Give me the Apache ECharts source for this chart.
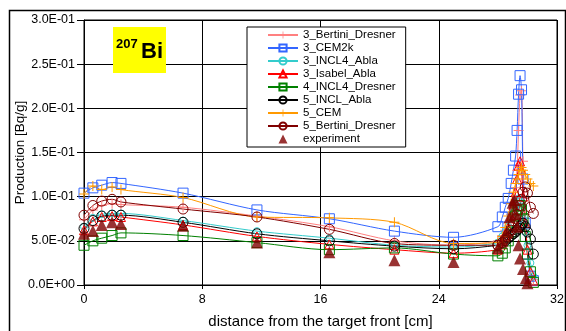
<!DOCTYPE html>
<html style="height: 100%">
<head>
<meta charset="utf-8">
<script type="text/javascript" src="https://cdn.jsdelivr.net/npm/echarts@6/dist/echarts.min.js"></script>
</head>
<body style="height: 100%; margin: 0; background: #fff">
<div id="container" style="width: 566px; height: 331px"></div>
<script type="text/javascript">
// x positions (cm) shared by the model curves
var xModel = [0, 0.6, 1.2, 1.9, 2.5, 6.7, 11.7, 16.6, 21.0, 25.0,
    28.0, 28.3, 28.5, 28.7, 28.9, 29.05, 29.2, 29.3, 29.4, 29.5, 29.6, 29.7, 29.85, 30.0, 30.2, 30.4];

var yBertini3 = [0.074, 0.085, 0.090, 0.092, 0.091, 0.088, 0.078, 0.066, 0.050, 0.045,
    0.050, 0.056, 0.062, 0.070, 0.080, 0.092, 0.110, 0.130, 0.175, 0.215, 0.220, 0.140, 0.080, 0.040, 0.015, 0.006];
var yCem2k3 = [0.104, 0.110, 0.113, 0.116, 0.115, 0.104, 0.085, 0.075, 0.061, 0.054,
    0.066, 0.077, 0.088, 0.098, 0.115, 0.130, 0.146, 0.175, 0.216, 0.237, 0.221, 0.120, 0.070, 0.035, 0.010, 0.005];
var yIncl4Abla3 = [0.066, 0.076, 0.080, 0.081, 0.081, 0.073, 0.061, 0.053, 0.045, 0.043,
    0.048, 0.055, 0.060, 0.066, 0.075, 0.082, 0.090, 0.095, 0.098, 0.095, 0.088, 0.075, 0.060, 0.045, 0.025, 0.010];
var yIsabel3 = [0.062, 0.072, 0.077, 0.078, 0.077, 0.068, 0.055, 0.046, 0.040, 0.036,
    0.040, 0.046, 0.055, 0.065, 0.078, 0.090, 0.105, 0.120, 0.135, 0.140, 0.130, 0.100, 0.070, 0.040, 0.015, 0.005];
var yIncl4Dresner4 = [0.045, 0.050, 0.053, 0.056, 0.059, 0.056, 0.048, 0.040, 0.042, 0.035,
    0.033, 0.036, 0.042, 0.050, 0.060, 0.068, 0.078, 0.085, 0.090, 0.090, 0.085, 0.075, 0.055, 0.035, 0.015, 0.003];
var yInclAbla5 = [0.064, 0.073, 0.078, 0.079, 0.079, 0.071, 0.058, 0.050, 0.044, 0.041,
    0.045, 0.048, 0.050, 0.053, 0.056, 0.058, 0.060, 0.062, 0.064, 0.066, 0.068, 0.070, 0.066, 0.060, 0.052, 0.035];
var yCem5 = [0.103, 0.112, 0.108, 0.111, 0.108, 0.099, 0.077, 0.076, 0.071, 0.047,
    0.048, 0.055, 0.065, 0.078, 0.092, 0.105, 0.115, 0.120, 0.125, 0.130, 0.133, 0.130, 0.125, 0.120, 0.115, 0.112];
var yBertini5 = [0.079, 0.090, 0.095, 0.097, 0.094, 0.086, 0.077, 0.063, 0.047, 0.045,
    0.045, 0.048, 0.052, 0.057, 0.062, 0.068, 0.075, 0.080, 0.085, 0.090, 0.097, 0.105, 0.111, 0.104, 0.088, 0.081];

// measured points
var xExp = [0, 0.6, 1.2, 1.9, 2.5, 6.7, 11.7, 16.6, 21.0, 25.0,
    28.0, 28.3, 28.6, 28.8, 29.0, 29.1, 29.2, 29.3, 29.4, 29.5, 29.7, 29.9, 30.0];
var yExp = [0.058, 0.061, 0.068, 0.071, 0.069, 0.067, 0.048, 0.037, 0.028, 0.026,
    0.042, 0.050, 0.060, 0.077, 0.093, 0.096, 0.080, 0.066, 0.045, 0.030, 0.018, 0.008, 0.002];

var modelNames = ['3_Bertini_Dresner', '3_CEM2k', '3_INCL4_Abla', '3_Isabel_Abla',
    '4_INCL4_Dresner', '5_INCL_Abla', '5_CEM', '5_Bertini_Dresner'];
var modelValues = [yBertini3, yCem2k3, yIncl4Abla3, yIsabel3, yIncl4Dresner4, yInclAbla5, yCem5, yBertini5];
var modelColors = ['#ff8080', '#3366ff', '#33cccc', '#ff0000', '#008000', '#000000', '#ff9900', '#800000'];

var PLUS = 'path://M4.5,0h1v4.5h4.5v1h-4.5v4.5h-1v-4.5h-4.5v-1h4.5z';
var TRI = 'path://M5,0L10,10L0,10Z';
var modelSymbols = [PLUS, 'rect', 'circle', 'triangle', 'rect', 'circle', PLUS, 'circle'];
var modelSizes = [10, 10, 7, 9, 10, 10, 10, 10];

function sci(v) {
    if (v === 0) return '0.0E+00';
    var e = Math.floor(Math.log10(v) + 1e-9);
    var m = v / Math.pow(10, e);
    var a = Math.abs(e);
    return m.toFixed(1) + 'E' + (e < 0 ? '-' : '+') + (a < 10 ? '0' : '') + a;
}

function pairs(xs, ys) {
    var out = [];
    for (var i = 0; i < xs.length; i++) out.push([xs[i], ys[i]]);
    return out;
}

var series = [];
for (var i = 0; i < modelNames.length; i++) {
    var c = modelColors[i];
    var plus = modelSymbols[i] === PLUS;
    series.push({
        name: modelNames[i],
        type: 'line',
        smooth: 0.3,
        data: pairs(xModel, modelValues[i]),
        symbol: modelSymbols[i],
        symbolSize: modelSizes[i],
        lineStyle: { color: c, width: 1 },
        itemStyle: plus ? { color: c } : { color: 'rgba(0,0,0,0)', borderColor: c, borderWidth: 1 },
        emphasis: { disabled: true }
    });
}
series.push({
    name: 'experiment',
    type: 'scatter',
    data: pairs(xExp, yExp),
    symbol: 'triangle',
    symbolSize: 12,
    itemStyle: { color: '#800000' },
    z: 5
});

var font = 'Liberation Sans, Arial, sans-serif';
var legendData = modelNames.map(function (n) { return { name: n }; });
legendData.push({ name: 'experiment', icon: TRI });

var chart = echarts.init(document.getElementById('container'), null, { renderer: 'canvas' });
chart.setOption({
    animation: false,
    backgroundColor: '#fff',
    textStyle: { fontFamily: font, color: '#000' },
    grid: { left: 84, right: 9, top: 20, bottom: 46, containLabel: false, outerBoundsMode: 'none',
            show: true, borderColor: '#000', borderWidth: 1 },
    xAxis: {
        type: 'value', min: 0, max: 32, interval: 8,
        name: 'distance from the target front [cm]', nameLocation: 'middle', nameGap: 29,
        nameMoveOverlap: false,
        nameTextStyle: { fontSize: 15, fontFamily: font, color: '#000' },
        axisLine: { lineStyle: { color: '#000' } },
        axisTick: { show: true, length: 4, lineStyle: { color: '#000' } },
        axisLabel: { fontSize: 12.5, fontFamily: font, color: '#000', margin: 8 },
        splitLine: { show: true, lineStyle: { color: '#000', width: 1 } }
    },
    yAxis: {
        type: 'value', min: 0, max: 0.3, interval: 0.05,
        name: 'Production [Bq/g]', nameLocation: 'middle', nameGap: 57,
        nameMoveOverlap: false,
        nameTextStyle: { fontSize: 13.5, fontFamily: font, color: '#000' },
        axisLine: { show: true, lineStyle: { color: '#000' } },
        axisTick: { show: true, length: 7, lineStyle: { color: '#000' } },
        axisLabel: { fontSize: 12.5, fontFamily: font, color: '#000', margin: 9, formatter: sci },
        splitLine: { show: true, lineStyle: { color: '#000', width: 1 } }
    },
    legend: {
        orient: 'vertical', left: 247, top: 27,
        backgroundColor: '#fff', borderColor: '#000', borderWidth: 1,
        padding: [2, 10, 2, 20],
        itemWidth: 30, itemHeight: 9, itemGap: 1,
        textStyle: { fontSize: 11.5, fontFamily: font, color: '#000', lineHeight: 12 },
        data: legendData
    },
    graphic: [
        { type: 'rect', left: 7, top: 8, shape: { width: 556, height: 340 },
          style: { fill: 'none', stroke: '#000', lineWidth: 1.5 }, silent: true, z: -1 },
        { type: 'rect', left: 113, top: 27, shape: { width: 53, height: 46 },
          style: { fill: '#ffff00' }, z: 10 },
        { type: 'text', left: 116, top: 38, z: 11,
          style: { text: '207', fontSize: 13, fontWeight: 'bold', fontFamily: font, fill: '#000' } },
        { type: 'text', left: 141, top: 41, z: 11,
          style: { text: 'Bi', fontSize: 22, fontWeight: 'bold', fontFamily: font, fill: '#000' } }
    ],
    series: series
});
</script>
</body>
</html>
